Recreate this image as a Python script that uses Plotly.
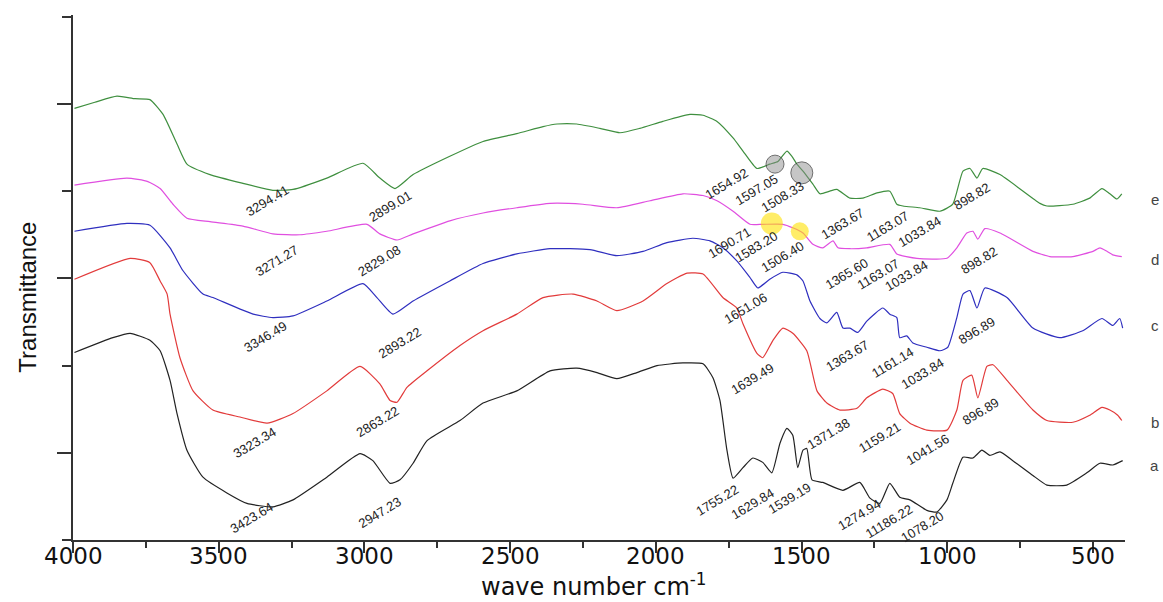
import plotly.graph_objects as go

# ---------------- data (wavenumber cm-1, transmittance a.u., curves offset) ----------------
wn_e = [3995, 3925, 3849, 3787, 3736, 3691, 3643, 3609, 3530, 3417, 3314, 3245, 3129, 3005, 2947, 2895,
        2833, 2707, 2593, 2477, 2387, 2339, 2271, 2192, 2123, 2055, 1976, 1883, 1838, 1790, 1735, 1701,
        1653, 1609, 1581, 1550, 1533, 1516, 1495, 1461, 1437, 1403, 1379, 1334, 1290, 1241, 1197, 1173,
        1152, 1094, 1025, 981, 946, 922, 898, 878, 819, 682, 658, 569, 511, 469, 442, 418, 401]
tr_e = [4.95, 5.02, 5.09, 5.06, 5.05, 4.88, 4.54, 4.31, 4.19, 4.09, 4.01, 4.02, 4.15, 4.32, 4.15, 4.03,
        4.19, 4.40, 4.57, 4.66, 4.74, 4.77, 4.77, 4.72, 4.67, 4.72, 4.80, 4.88, 4.87, 4.80, 4.61, 4.46,
        4.26, 4.31, 4.34, 4.46, 4.40, 4.31, 4.23, 4.08, 3.97, 4.00, 4.02, 3.92, 3.92, 3.98, 4.00, 3.85,
        3.83, 3.81, 3.77, 3.85, 4.23, 4.26, 4.15, 4.26, 4.19, 3.86, 3.83, 3.85, 3.92, 4.03, 3.97, 3.91, 3.97]

wn_d = [3995, 3815, 3743, 3701, 3657, 3609, 3530, 3417, 3314, 3221, 3129, 2991, 2947, 2888, 2833, 2707,
        2593, 2477, 2363, 2250, 2134, 2020, 1907, 1838, 1790, 1735, 1677, 1633, 1564, 1530, 1495, 1461,
        1427, 1392, 1375, 1334, 1276, 1197, 1173, 1104, 1001, 967, 933, 912, 895, 871, 819, 706, 648,
        569, 500, 476, 452, 432, 401]
tr_d = [4.07, 4.15, 4.11, 4.03, 3.85, 3.69, 3.65, 3.60, 3.51, 3.50, 3.54, 3.62, 3.51, 3.44, 3.51, 3.66,
        3.75, 3.81, 3.86, 3.85, 3.81, 3.89, 3.97, 3.95, 3.89, 3.77, 3.62, 3.62, 3.62, 3.58, 3.52, 3.39,
        3.35, 3.43, 3.35, 3.34, 3.35, 3.39, 3.28, 3.23, 3.23, 3.35, 3.52, 3.54, 3.45, 3.57, 3.52, 3.31, 3.25,
        3.25, 3.31, 3.35, 3.31, 3.27, 3.25]

wn_c = [3995, 3815, 3736, 3667, 3623, 3554, 3520, 3382, 3314, 3245, 3129, 3005, 2957, 2902, 2833, 2707,
        2593, 2477, 2363, 2226, 2134, 2044, 1962, 1873, 1814, 1770, 1722, 1677, 1650, 1609, 1564, 1516,
        1495, 1471, 1437, 1413, 1379, 1358, 1334, 1307, 1276, 1221, 1197, 1173, 1163, 1139, 1118, 1070,
        1025, 998, 967, 946, 922, 898, 871, 795, 706, 614, 535, 469, 432, 408, 398]
tr_c = [3.54, 3.63, 3.61, 3.35, 3.09, 2.82, 2.78, 2.59, 2.55, 2.57, 2.74, 2.94, 2.78, 2.59, 2.74, 2.97,
        3.17, 3.28, 3.34, 3.33, 3.26, 3.31, 3.41, 3.46, 3.43, 3.35, 3.20, 3.01, 2.89, 2.99, 3.07, 3.04,
        2.97, 2.74, 2.54, 2.49, 2.61, 2.43, 2.43, 2.38, 2.51, 2.66, 2.59, 2.55, 2.32, 2.34, 2.26, 2.21,
        2.17, 2.21, 2.55, 2.82, 2.86, 2.66, 2.89, 2.78, 2.43, 2.32, 2.40, 2.54, 2.46, 2.54, 2.43]

wn_b = [3995, 3804, 3736, 3701, 3677, 3667, 3633, 3588, 3520, 3427, 3334, 3245, 3129, 3015, 2947, 2912,
        2888, 2854, 2785, 2672, 2593, 2477, 2387, 2284, 2202, 2134, 2044, 1962, 1893, 1838, 1770, 1722,
        1701, 1653, 1633, 1598, 1564, 1530, 1482, 1447, 1413, 1368, 1310, 1276, 1221, 1187, 1163, 1128,
        1070, 1001, 967, 946, 916, 895, 864, 843, 795, 706, 658, 569, 511, 469, 442, 415, 401]
tr_b = [2.99, 3.23, 3.18, 2.97, 2.82, 2.59, 2.09, 1.71, 1.49, 1.41, 1.34, 1.45, 1.71, 1.99, 1.79, 1.60,
        1.58, 1.75, 1.94, 2.23, 2.40, 2.59, 2.78, 2.82, 2.74, 2.63, 2.74, 2.94, 3.06, 3.05, 2.78, 2.66,
        2.48, 2.14, 2.09, 2.29, 2.43, 2.37, 2.17, 1.71, 1.57, 1.49, 1.51, 1.63, 1.73, 1.68, 1.45, 1.34,
        1.26, 1.26, 1.49, 1.83, 1.89, 1.63, 1.99, 2.01, 1.83, 1.49, 1.37, 1.35, 1.43, 1.52, 1.49, 1.43, 1.37]

wn_a = [3995, 3863, 3804, 3736, 3701, 3667, 3643, 3609, 3554, 3472, 3403, 3314, 3245, 3129, 3015, 2971,
        2912, 2878, 2833, 2785, 2672, 2593, 2477, 2363, 2271, 2202, 2134, 2065, 1996, 1907, 1838, 1804,
        1780, 1756, 1735, 1701, 1667, 1633, 1602, 1574, 1550, 1530, 1513, 1495, 1482, 1464, 1427, 1358,
        1300, 1265, 1231, 1197, 1163, 1128, 1070, 1036, 1001, 981, 946, 912, 881, 854, 819, 775, 706,
        658, 590, 521, 476, 432, 398]
tr_a = [2.15, 2.32, 2.37, 2.29, 2.17, 1.83, 1.45, 1.03, 0.72, 0.54, 0.42, 0.38, 0.46, 0.72, 0.99, 0.91,
        0.65, 0.69, 0.88, 1.14, 1.37, 1.57, 1.71, 1.94, 1.97, 1.92, 1.85, 1.92, 2.00, 2.03, 2.02, 1.86,
        1.60, 1.03, 0.71, 0.83, 0.94, 0.89, 0.77, 1.11, 1.28, 1.20, 0.83, 1.03, 1.05, 0.69, 0.66, 0.57,
        0.66, 0.48, 0.42, 0.65, 0.49, 0.46, 0.34, 0.32, 0.46, 0.65, 0.95, 0.94, 1.03, 0.97, 1.01, 0.91, 0.74,
        0.63, 0.63, 0.77, 0.88, 0.86, 0.91]

series_names = ["a", "b", "c", "d", "e"]
x_tick_values = [4000, 3500, 3000, 2500, 2000, 1500, 1000, 500]
x_tick_labels = ["4000", "3500", "3000", "2500", "2000", "1500", "1000", "500"]

# peak labels: text and where they are written (wavenumber, transmittance)
peak_text = ["3294.41", "2899.01", "1654.92", "1597.05", "1508.33", "1363.67", "1163.07", "1033.84", "898.82",
             "3271.27", "2829.08", "1690.71", "1583.20", "1506.40", "1365.60", "1163.07", "1033.84", "898.82",
             "3346.49", "2893.22", "1651.06", "1363.67", "1161.14", "1033.84", "896.89",
             "3323.34", "2863.22", "1639.49", "1371.38", "1159.21", "1041.56", "896.89",
             "3423.64", "2947.23", "1755.22", "1629.84", "1539.19", "1274.94", "11186.22", "1078.20"]
peak_text_x = [3331, 2912, 1756, 1653, 1564, 1358, 1204, 1094, 916,
               3300, 2947, 1746, 1653, 1564, 1344, 1238, 1139, 891,
               3338, 2878, 1694, 1341, 1187, 1084, 898,
               3376, 2954, 1667, 1406, 1231, 1067, 885,
               3386, 2947, 1790, 1667, 1543, 1300, 1200, 1084]
peak_text_y = [3.89, 3.82, 4.09, 4.02, 3.94, 3.63, 3.59, 3.54, 3.94,
               3.21, 3.20, 3.41, 3.36, 3.25, 3.06, 3.05, 3.03, 3.21,
               2.33, 2.27, 2.66, 2.11, 2.03, 1.91, 2.40,
               1.12, 1.36, 1.85, 1.22, 1.17, 1.04, 1.47,
               0.26, 0.32, 0.45, 0.42, 0.48, 0.29, 0.21, 0.15]

# highlighted bands
grey_mark_x = [1591, 1499]
grey_mark_y = [4.31, 4.21]
yellow_mark_x = [1602, 1506]
yellow_mark_y = [3.63, 3.54]

# series label heights at the right edge
series_label_y = [0.86, 1.35, 2.46, 3.22, 3.91]

# ---------------- figure ----------------
colors = {"a": "#222222", "b": "#e23b3b", "c": "#2f2fbf", "d": "#e04fe0", "e": "#3f8f3f"}
data = {"a": (wn_a, tr_a), "b": (wn_b, tr_b), "c": (wn_c, tr_c), "d": (wn_d, tr_d), "e": (wn_e, tr_e)}

fig = go.Figure()
for name in series_names:
    xs, ys = data[name]
    fig.add_trace(go.Scatter(x=xs, y=ys, mode="lines", name=name,
                             line=dict(color=colors[name], width=1.2, shape="spline", smoothing=0.5),
                             showlegend=False))

fig.add_trace(go.Scatter(x=grey_mark_x, y=grey_mark_y, mode="markers", showlegend=False,
                         marker=dict(size=[18, 22], color="rgba(140,140,140,0.7)",
                                     line=dict(color="#333333", width=1))))
fig.add_trace(go.Scatter(x=yellow_mark_x, y=yellow_mark_y, mode="markers", showlegend=False,
                         marker=dict(size=[22, 18], color="rgba(255,225,0,0.85)", line=dict(width=0))))

annotations = []
for t, px, py in zip(peak_text, peak_text_x, peak_text_y):
    annotations.append(dict(x=px, y=py, xref="x", yref="y", text=t, showarrow=False,
                            textangle=-31, xanchor="center", yanchor="middle",
                            font=dict(family="Liberation Sans, Arial", size=13, color="#222222")))
for name, ly in zip(series_names, series_label_y):
    annotations.append(dict(x=1.0285, y=ly, xref="paper", yref="y", text=name, showarrow=False,
                            xanchor="center", yanchor="middle",
                            font=dict(family="Liberation Sans, Arial", size=15, color="#444444")))
# x tick labels, written just under the axis line
for tv, tl in zip(x_tick_values, x_tick_labels):
    annotations.append(dict(x=tv, y=-0.031, xref="x", yref="paper", text=tl, showarrow=False,
                            xanchor="center", yanchor="middle",
                            font=dict(family="DejaVu Sans", size=23, color="#111111")))
annotations.append(dict(x=-0.043, y=0.463, xref="paper", yref="paper", text="Transmittance",
                        showarrow=False, textangle=-90, xanchor="center", yanchor="middle",
                        font=dict(family="Liberation Sans, Arial", size=24, color="#111111")))
annotations.append(dict(x=0.495, y=-0.086, xref="paper", yref="paper",
                        text="wave number cm<sup>-1</sup>", showarrow=False,
                        xanchor="center", yanchor="middle",
                        font=dict(family="DejaVu Sans", size=24, color="#111111")))
fig.update_layout(annotations=annotations)

fig.update_layout(
    width=1163, height=602,
    margin=dict(l=73, r=38, t=15, b=62),
    paper_bgcolor="white", plot_bgcolor="white",
    xaxis=dict(range=[4000, 390], tickvals=x_tick_values, showticklabels=False,
               showgrid=False, zeroline=False, showline=True, linecolor="#333333", linewidth=2,
               ticks="outside", ticklen=11, tickwidth=2, tickcolor="#333333",
               minor=dict(ticks="outside", ticklen=6, tickwidth=2, tickcolor="#333333", dtick=250,
                          tick0=0, showgrid=False)),
    yaxis=dict(range=[0, 6.02], tick0=1, dtick=2, showticklabels=False,
               showgrid=False, zeroline=False, showline=True, linecolor="#333333", linewidth=2,
               ticks="outside", ticklen=14, tickwidth=2, tickcolor="#333333",
               minor=dict(ticks="outside", ticklen=9, tickwidth=2, tickcolor="#333333", dtick=1,
                          tick0=0, showgrid=False)),
)

fig.write_html("out.html")
